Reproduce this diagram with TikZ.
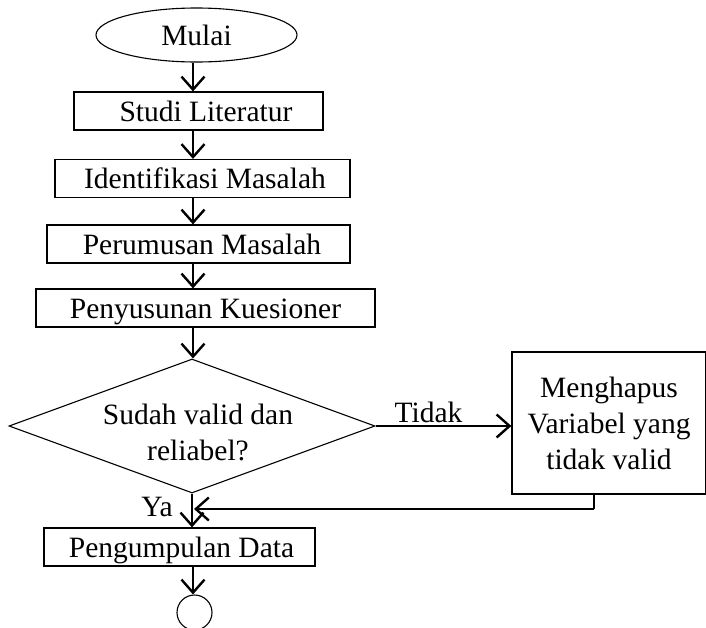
\documentclass[tikz,border=0pt]{standalone}
\usepackage{fontspec}
\setmainfont{Liberation Serif}
\usetikzlibrary{shapes.geometric,arrows.meta}
\begin{document}
\begin{tikzpicture}[x=1pt,y=-1pt,
  every node/.style={font=\fontsize{29.5}{36}\selectfont},
  boxnode/.style={draw, line width=1.2pt, rectangle, inner sep=0pt, text height=20pt, text depth=0pt, minimum height=38pt},
  flow/.style={line width=2.4pt, -{Straight Barb[length=13pt,width=23pt,line width=2.4pt]}},
  thinline/.style={line width=1.2pt}
]
\useasboundingbox (0,0) rectangle (706,627);
\coordinate (col) at (193,0);
\node[ellipse, draw, line width=1.1pt, minimum width=201pt, minimum height=54pt, inner sep=0pt] (mulai) at (196.5,35) {Mulai};
\node[boxnode, minimum width=249pt] (studi) at (198.5,111) {\hspace*{15pt}Studi Literatur};
\node[boxnode, minimum width=295pt] (ident) at (202.5,178.5) {\hspace*{5pt}Identifikasi Masalah};
\node[boxnode, minimum width=303pt] (perum) at (198.5,244) {\hspace*{7pt}Perumusan Masalah};
\node[boxnode, minimum width=339pt] (penyu) at (205.5,308) {Penyusunan Kuesioner};
\node[diamond, draw, line width=1.1pt, minimum width=366pt, minimum height=134pt, inner sep=0pt, aspect=2.73] (dec) at (192,426) {};
\node[align=center, inner sep=0pt] (dectext) at (198,432) {Sudah valid dan\\reliabel?};
\node[draw, line width=1.2pt, rectangle, inner sep=0pt, minimum width=194pt, minimum height=142pt, align=center] (men) at (609,423) {Menghapus\\Variabel yang\\tidak valid};
\node[boxnode, minimum width=271pt] (peng) at (179.5,547) {\hspace*{4pt}Pengumpulan Data};
\node[circle, draw, line width=1.1pt, minimum size=35pt, inner sep=0pt] (end) at (194.5,612.5) {};
\node[anchor=base, inner sep=0pt] (ya) at (157,516) {Ya};
\coordinate (retcorner) at (594,509);
\coordinate (join) at (194,509);

\draw[flow] (mulai.south -| col) -- (studi.north -| col);
\draw[flow] (studi.south -| col) -- (ident.north -| col);
\draw[flow] (ident.south -| col) -- (perum.north -| col);
\draw[flow] (perum.south -| col) -- (penyu.north -| col);
\draw[flow] (penyu.south -| col) -- (dec.north -| col);
\draw[flow] (dec.south) -- (dec.south |- peng.north);
\draw[flow] (dec.east) -- (dec.east -| men.west) node[pos=0.39, anchor=base, inner sep=0pt, yshift=4pt] (tidak) {Tidak};
\draw[thinline] (men.south -| retcorner) -- (retcorner);
\draw[flow] (retcorner) -- (join);
\draw[flow] (peng.south -| col) -- (end.north -| col);
\end{tikzpicture}
\end{document}
